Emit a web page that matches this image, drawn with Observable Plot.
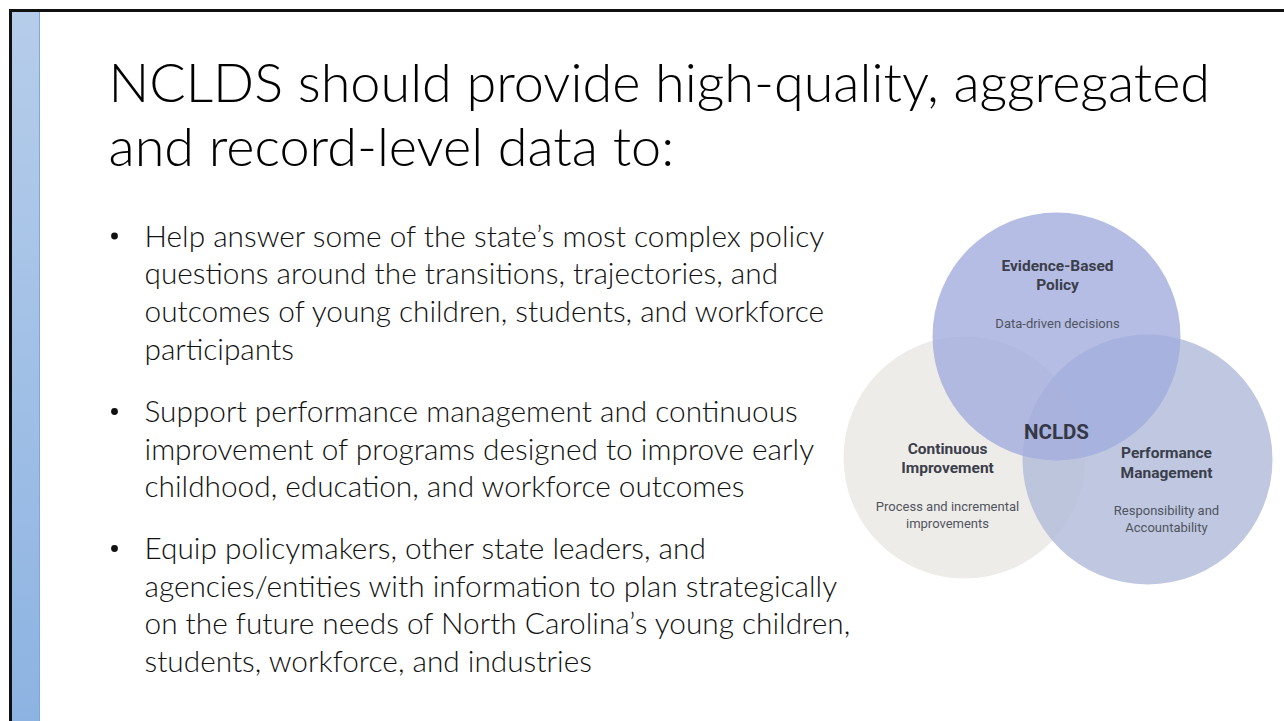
<!DOCTYPE html>
<html>
<head>
<meta charset="utf-8">
<script src="https://cdn.jsdelivr.net/npm/d3@7"></script>
<script src="https://cdn.jsdelivr.net/npm/@observablehq/plot@0.6"></script>
<style>
  html, body { margin: 0; padding: 0; background: #ffffff; width: 1284px; height: 721px; overflow: hidden; }
  #frame { position: absolute; left: 9px; top: 9px; width: 1300px; height: 730px;
           border-top: 3px solid #111; border-left: 3px solid #111; }
  #bar { position: absolute; left: 12px; top: 12px; width: 27px; height: 709px;
         background: linear-gradient(#b6cdea, #8db3e2); border-right: 1.5px solid #7ea7da; }
  #chart { position: absolute; left: 0; top: 0; }
</style>
</head>
<body>
<div id="frame"></div>
<div id="bar"></div>
<div id="chart"></div>
<script>
// ---------- content ----------
const titleLines = [
  "NCLDS should provide high-quality, aggregated",
  "and record-level data to:"
];
const bullet1 = [
  "Help answer some of the state’s most complex policy",
  "questions around the transitions, trajectories, and",
  "outcomes of young children, students, and workforce",
  "participants"
];
const bullet2 = [
  "Support performance management and continuous",
  "improvement of programs designed to improve early",
  "childhood, education, and workforce outcomes"
];
const bullet3 = [
  "Equip policymakers, other state leaders, and",
  "agencies/entities with information to plan strategically",
  "on the future needs of North Carolina’s young children,",
  "students, workforce, and industries"
];
const vennNames = ["Continuous Improvement", "Performance Management", "Evidence-Based Policy"];
const vennTitles = [["Continuous", "Improvement"], ["Performance", "Management"], ["Evidence-Based", "Policy"]];
const vennDescriptions = [["Process and incremental", "improvements"], ["Responsibility and", "Accountability"], ["Data-driven decisions"]];
const vennCenter = "NCLDS";

// ---------- layout (pixels on the slide) ----------
const W = 1284, H = 721;
const titleLayout = { x: 108, y: 84, gap: 64 };
const bulletLayout = { dotX: 114, textX: 144, starts: [236.5, 412, 549], gap: 37.7 };
const vennLayout = {
  circles: [
    { cx: 964, cy: 457, r: 121, fill: "#eeece8", alpha: 1 },
    { cx: 1147, cy: 459, r: 125, fill: "#b4bedb", alpha: 0.85 },
    { cx: 1056, cy: 336, r: 124, fill: "#a3addd", alpha: 0.8 }
  ],
  titlePos: [{ x: 947, y: 449 }, { x: 1166, y: 453 }, { x: 1057, y: 266 }],
  descPos: [{ x: 947, y: 506 }, { x: 1166, y: 510 }, { x: 1057, y: 323 }],
  lineGap: [19, 19.5, 19],
  descGap: [17, 17, 17],
  center: { x: 1056, y: 432 }
};

// ---------- tables ----------
const titleRows = titleLines.map((t, i) => ({ t, x: titleLayout.x, y: titleLayout.y + i * titleLayout.gap }));
const bullets = [bullet1, bullet2, bullet3];
const bulletRows = bullets.flatMap((lines, i) => lines.map((t, j) => ({
  t, x: bulletLayout.textX, y: bulletLayout.starts[i] + j * bulletLayout.gap
})));
const bulletDots = bullets.map((_, i) => ({ x: bulletLayout.dotX, y: bulletLayout.starts[i] - 1 }));
const circleRows = vennNames.map((name, i) => ({ name, ...vennLayout.circles[i] }));
const vennTitleRows = vennTitles.flatMap((lines, i) => lines.map((t, j) => ({
  t, x: vennLayout.titlePos[i].x, y: vennLayout.titlePos[i].y + j * vennLayout.lineGap[i]
})));
const vennDescRows = vennDescriptions.flatMap((lines, i) => lines.map((t, j) => ({
  t, x: vennLayout.descPos[i].x, y: vennLayout.descPos[i].y + j * vennLayout.descGap[i]
})));

const mainFont = "Lato, 'Open Sans', sans-serif";
const vennFont = "Roboto, 'Noto Sans', sans-serif";

const chart = Plot.plot({
  width: W,
  height: H,
  margin: 0,
  x: { domain: [0, W], range: [0, W], axis: null },
  y: { domain: [0, H], range: [0, H], axis: null },
  style: { background: "transparent", overflow: "visible" },
  marks: [
    // Venn circles, drawn one by one so they stack left, right, top
    ...circleRows.map(c => Plot.dot([c], { x: "cx", y: "cy", r: c.r, fill: c.fill, fillOpacity: c.alpha, stroke: "none" })),
    Plot.text(vennTitleRows, { x: "x", y: "y", text: "t", textAnchor: "middle", lineAnchor: "middle",
      fontFamily: vennFont, fontWeight: 700, fontSize: 15.5, fill: "#3b3e4b" }),
    Plot.text(vennDescRows, { x: "x", y: "y", text: "t", textAnchor: "middle", lineAnchor: "middle",
      fontFamily: vennFont, fontWeight: 400, fontSize: 13, fill: "#50545f" }),
    Plot.text([{ t: vennCenter, ...vennLayout.center }], { x: "x", y: "y", text: "t", textAnchor: "middle", lineAnchor: "middle",
      fontFamily: vennFont, fontWeight: 700, fontSize: 20.5, fill: "#353846" }),
    // Title
    Plot.text(titleRows, { x: "x", y: "y", text: "t", textAnchor: "start", lineAnchor: "middle",
      fontFamily: mainFont, fontWeight: 300, fontSize: 54, fill: "#000" }),
    // Bullets
    Plot.dot(bulletDots, { x: "x", y: "y", r: 3.4, fill: "#111", stroke: "none" }),
    Plot.text(bulletRows, { x: "x", y: "y", text: "t", textAnchor: "start", lineAnchor: "middle",
      fontFamily: mainFont, fontWeight: 300, fontSize: 29.8, fill: "#111" })
  ]
});
document.getElementById("chart").appendChild(chart);
</script>
</body>
</html>
